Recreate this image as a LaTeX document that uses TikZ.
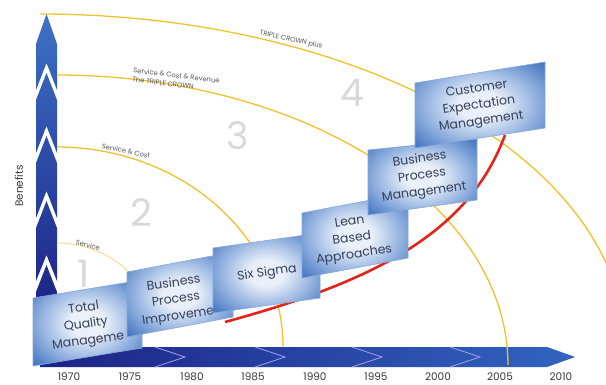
\documentclass[tikz,border=0pt]{standalone}
\usepackage{fontspec}
\setmainfont{Poppins}
\definecolor{arcyel}{HTML}{F2C12E}
\definecolor{arcpale}{HTML}{F4DE9A}
\definecolor{boxin}{HTML}{EAF0F9}
\definecolor{boxmid}{HTML}{9DB9E3}
\definecolor{boxout}{HTML}{4677C2}
\definecolor{boxline}{HTML}{86A8DC}
\definecolor{boxtext}{HTML}{353F58}
\definecolor{navy}{HTML}{1C2386}
\definecolor{midblue}{HTML}{3D72C6}
\definecolor{hbarR}{HTML}{3264C0}
\definecolor{chev}{HTML}{9A9CEB}
\definecolor{redc}{HTML}{E3241B}
\definecolor{numgray}{HTML}{D9D9D9}
\definecolor{lblgray}{HTML}{555555}
\definecolor{yeargray}{HTML}{3A3A3A}
\pgfdeclareradialshading{boxshade}{\pgfpoint{0bp}{0bp}}{color(0bp)=(boxin); color(8bp)=(boxin); color(20bp)=(boxmid); color(34bp)=(boxout); color(100bp)=(boxout)}
\tikzset{
  pbox/.style={shading=boxshade, draw=boxline, line width=0.6pt},
  btext/.style={font=\fontsize{12.5}{16.5}\selectfont, text=boxtext, align=center, rotate=8, inner sep=0pt},
  arcline/.style={draw=arcyel, line width=1.3pt},
  arclbl/.style={font=\fontsize{6.8}{9}\selectfont, text=lblgray, inner sep=0pt, align=left},
  bignum/.style={font=\fontsize{38}{40}\selectfont, text=numgray, inner sep=0pt},
  yearlbl/.style={font=\fontsize{10.5}{12}\selectfont, text=yeargray, inner sep=0pt},
}
\begin{document}
\begin{tikzpicture}[x=1pt,y=-1pt]
\useasboundingbox (0,0) rectangle (606,385);
\clip (0,0) rectangle (606,385);
\fill[white] (0,0) rectangle (606,385);
% vertical arrow
\shade[top color=midblue, bottom color=navy]
 (46.5,14) -- (57,44) -- (57,90) -- (46.5,63) -- (36,90) -- (36,44) -- cycle
 (46.5,73) -- (57,100) -- (57,153) -- (46.5,126) -- (36,153) -- (36,100) -- cycle
 (46.5,136) -- (57,163) -- (57,218) -- (46.5,191) -- (36,218) -- (36,163) -- cycle
 (46.5,201) -- (57,228) -- (57,281) -- (46.5,255) -- (36,281) -- (36,228) -- cycle
 (46.5,265) -- (57,292) -- (57,310) -- (36,310) -- (36,292) -- cycle;
% horizontal arrow
\shade[left color=navy, right color=hbarR] (40,347) -- (547,347) -- (575,357) -- (547,367) -- (40,367) -- cycle;
\foreach \t in {185,285,382,480}
  \draw[chev, line width=0.8pt] ({\t-30},347) -- (\t,357) -- ({\t-30},367);
% arcs
\draw[draw=arcpale, line width=1.1pt] plot[domain=-90:-30, samples=40, smooth] ({57+104*cos(\x)},{347+104*sin(\x)});
\draw[arcline] plot[domain=-90:0, samples=60, smooth] ({57+226*cos(\x)},{347+200*sin(\x)});
\draw[arcline] plot[domain=-90:0, samples=80, smooth] ({57+451*cos(\x)},{365+290*sin(\x)});
\draw[arcline] plot[domain=-90:-13, samples=80, smooth] ({40+585*cos(\x)},{347+333*sin(\x)});
% red trend curve
\draw[redc, line width=2.6pt] (225,322) .. controls (380,280) and (470,230) .. (505,135);
% arc labels
\node[arclbl, rotate=-14] (l1) at (88,245) {Service};
\node[arclbl, rotate=-11] (l2) at (126,151) {Service \& Cost};
\node[arclbl, rotate=-7] (l3) at (176,80) {Service \& Cost \& Revenue\\The TRIPLE CROWN};
\node[arclbl, rotate=-12] (l4) at (291,40) {TRIPLE CROWN plus};
% big numbers
\node[bignum] (n1) at (84,274) {1};
\node[bignum] (n2) at (141,213) {2};
\node[bignum] (n3) at (238,136) {3};
\node[bignum] (n4) at (352,93) {4};
% boxes
\shadedraw[pbox] (33,298) -- (142,280) -- (142,348) -- (33,366) -- cycle;
\node[btext] (tqm) at (86,325) {Total\\Quality\\Manageme};
\shadedraw[pbox] (127,272) -- (233,252) -- (233,317) -- (127,337) -- cycle;
\node[btext] (bpi) at (176,300) {Business\\Process\\Improveme};
\shadedraw[pbox] (213,248) -- (320,233) -- (320,298) -- (213,313) -- cycle;
\node[btext] (six) at (267,273) {Six Sigma};
\shadedraw[pbox] (302,213) -- (408,193) -- (408,258) -- (302,278) -- cycle;
\node[btext] (lean) at (352,239) {Lean\\Based\\Approaches};
\shadedraw[pbox] (368,150) -- (477,139) -- (477,200) -- (368,215) -- cycle;
\node[btext] (bpm) at (422,176) {Business\\Process\\Management};
\shadedraw[pbox] (415,83) -- (545,62) -- (545,128) -- (415,148) -- cycle;
\node[btext] (cem) at (479,106) {Customer\\Expectation\\Management};
% years
\foreach \yr/\xx in {1970/69,1975/130,1980/192,1985/253,1990/315,1995/376,2000/438,2005/500,2010/561}
  \node[yearlbl] (y\yr) at (\xx,377) {\yr};
\node[yearlbl, rotate=90] (ben) at (19,186) {Benefits};
\end{tikzpicture}
\end{document}
